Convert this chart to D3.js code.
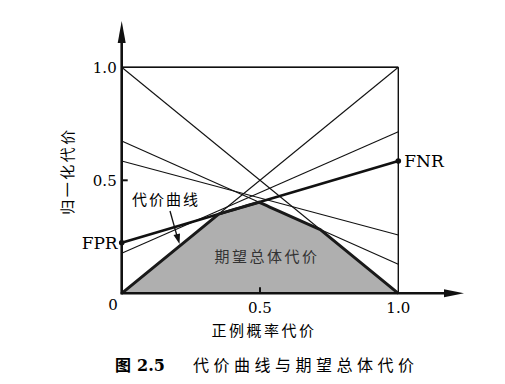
<!DOCTYPE html>
<html>
<head>
<meta charset="utf-8">
<script src="https://cdn.jsdelivr.net/npm/d3@7"></script>
<style>
  body { margin: 0; background: #fff; }
  svg { display: block; }
</style>
</head>
<body>
<div id="chart"></div>
<script>
// cost lines: value at P(+)cost = 0 (FPR end) and at 1 (FNR end)
var leftVals = [1, 1, 0, 0.674, 0.585, 0.224, 0.177];
var rightVals = [1, 0, 1, 0.128, 0.258, 0.585, 0.715];
var boldLine = 5; // the FPR -> FNR line
var yTicks = [1.0, 0.5];
var yTickLabels = ["1.0", "0.5"];
var xTicks = [0.5, 1.0];
var xTickLabels = ["0.5", "1.0"];

var width = 505,
  height = 384;

var cjk = "'Noto Sans CJK SC', sans-serif";
var serif = "'DejaVu Serif', serif";

var svg = d3
  .select("#chart")
  .append("svg")
  .attr("width", width)
  .attr("height", height);

var x = d3.scaleLinear().domain([0, 1]).range([121.7, 398.3]);
var y = d3.scaleLinear().domain([0, 1]).range([293.3, 67.3]);

var lines = leftVals.map(function(v, i) {
  return { a: v, b: rightVals[i], i: i };
});

// lower envelope = expected total cost
var xs = [0, 1];
lines.forEach(function(p, i) {
  lines.forEach(function(q, j) {
    if (j <= i) return;
    var dp = p.b - p.a,
      dq = q.b - q.a;
    if (dp === dq) return;
    var t = (q.a - p.a) / (dp - dq);
    if (t > 0 && t < 1) xs.push(t);
  });
});
xs.sort(d3.ascending);
var env = xs.map(function(t) {
  return [t, d3.min(lines, function(l) { return l.a + (l.b - l.a) * t; })];
});

svg
  .append("path")
  .datum(env)
  .attr("fill", "#afafaf")
  .attr("d", d3.area()
    .x(function(d) { return x(d[0]); })
    .y0(y(0))
    .y1(function(d) { return y(d[1]); }));

// frame top and right
svg.append("line")
  .attr("x1", x(0)).attr("x2", x(1))
  .attr("y1", y(1)).attr("y2", y(1))
  .attr("stroke", "#111").attr("stroke-width", 1.4);
svg.append("line")
  .attr("x1", x(1)).attr("x2", x(1))
  .attr("y1", y(0)).attr("y2", y(1))
  .attr("stroke", "#111").attr("stroke-width", 1.4);

svg
  .selectAll("line.cost")
  .data(lines)
  .enter()
  .append("line")
  .attr("class", "cost")
  .attr("x1", x(0))
  .attr("x2", x(1))
  .attr("y1", function(d) { return y(d.a); })
  .attr("y2", function(d) { return y(d.b); })
  .attr("stroke", "#111")
  .attr("stroke-width", function(d) { return d.i === boldLine ? 2.6 : 1.1; });

svg
  .append("path")
  .datum(env)
  .attr("fill", "none")
  .attr("stroke", "#1a1a1a")
  .attr("stroke-width", 3)
  .attr("stroke-linejoin", "round")
  .attr("d", d3.line()
    .x(function(d) { return x(d[0]); })
    .y(function(d) { return y(d[1]); }));

// end points of the bold line
svg.selectAll("circle.end")
  .data([[0, leftVals[boldLine]], [1, rightVals[boldLine]]])
  .enter()
  .append("circle")
  .attr("cx", function(d) { return x(d[0]); })
  .attr("cy", function(d) { return y(d[1]); })
  .attr("r", 2.8)
  .attr("fill", "#111");

// axes
svg.append("line")
  .attr("x1", x(0)).attr("x2", x(0))
  .attr("y1", y(0) + 1).attr("y2", 36)
  .attr("stroke", "#111").attr("stroke-width", 2.6);
svg.append("path")
  .attr("d", "M" + x(0) + ",21 L" + (x(0) - 4) + ",43 L" + (x(0) + 4) + ",43 Z")
  .attr("fill", "#111");
svg.append("line")
  .attr("x1", x(0) - 1).attr("x2", 450)
  .attr("y1", y(0)).attr("y2", y(0))
  .attr("stroke", "#111").attr("stroke-width", 2.6);
svg.append("path")
  .attr("d", "M464," + y(0) + " L444," + (y(0) - 4) + " L444," + (y(0) + 4) + " Z")
  .attr("fill", "#111");

// ticks
svg.selectAll("line.ytick")
  .data(yTicks.filter(function(d) { return d < 1; }))
  .enter().append("line")
  .attr("x1", x(0)).attr("x2", x(0) + 6)
  .attr("y1", function(d) { return y(d); }).attr("y2", function(d) { return y(d); })
  .attr("stroke", "#111").attr("stroke-width", 2);
svg.selectAll("line.xtick")
  .data(xTicks.filter(function(d) { return d < 1; }))
  .enter().append("line")
  .attr("x1", function(d) { return x(d); }).attr("x2", function(d) { return x(d); })
  .attr("y1", y(0)).attr("y2", y(0) - 6)
  .attr("stroke", "#111").attr("stroke-width", 2);

svg.selectAll("text.ylab")
  .data(yTicks)
  .enter().append("text")
  .attr("x", x(0) - 5)
  .attr("y", function(d) { return y(d) + 5.5; })
  .attr("text-anchor", "end")
  .attr("font-family", serif)
  .attr("font-size", 15)
  .text(function(d, i) { return yTickLabels[i]; });
svg.selectAll("text.xlab")
  .data(xTicks)
  .enter().append("text")
  .attr("x", function(d) { return x(d); })
  .attr("y", y(0) + 20)
  .attr("text-anchor", "middle")
  .attr("font-family", serif)
  .attr("font-size", 15)
  .text(function(d, i) { return xTickLabels[i]; });
svg.append("text")
  .attr("x", x(0) - 4)
  .attr("y", y(0) + 17)
  .attr("text-anchor", "end")
  .attr("font-family", serif)
  .attr("font-size", 15)
  .text("0");

svg.append("text")
  .attr("x", x(0) - 4)
  .attr("y", y(leftVals[boldLine]) + 6)
  .attr("text-anchor", "end")
  .attr("font-family", serif)
  .attr("font-size", 17)
  .text("FPR");
svg.append("text")
  .attr("x", x(1) + 6)
  .attr("y", y(rightVals[boldLine]) + 6)
  .attr("font-family", serif)
  .attr("font-size", 17)
  .text("FNR");

// annotations
svg.append("text")
  .attr("x", 132)
  .attr("y", 205)
  .attr("font-family", cjk)
  .attr("font-size", 15)
  .attr("letter-spacing", 2)
  .text("代价曲线");
svg.append("line")
  .attr("x1", 170).attr("y1", 211)
  .attr("x2", 177).attr("y2", 236)
  .attr("stroke", "#111").attr("stroke-width", 1.3);
svg.append("path")
  .attr("d", "M179.5,244 L173.5,235 L180,233.5 Z")
  .attr("fill", "#111");

svg.append("text")
  .attr("x", 267)
  .attr("y", 262)
  .attr("text-anchor", "middle")
  .attr("font-family", cjk)
  .attr("font-size", 15)
  .attr("letter-spacing", 2.5)
  .attr("fill", "#333")
  .text("期望总体代价");

svg.append("text")
  .attr("transform", "translate(73,171) rotate(-90)")
  .attr("text-anchor", "middle")
  .attr("font-family", cjk)
  .attr("font-size", 15)
  .attr("letter-spacing", 2.5)
  .text("归一化代价");
svg.append("text")
  .attr("x", 264)
  .attr("y", 336)
  .attr("text-anchor", "middle")
  .attr("font-family", cjk)
  .attr("font-size", 15)
  .attr("letter-spacing", 2.5)
  .text("正例概率代价");

// caption
var cap = svg.append("text")
  .attr("x", 115)
  .attr("y", 371)
  .attr("font-size", 16);
cap.append("tspan").attr("font-family", cjk).attr("font-weight", "bold").text("图");
cap.append("tspan").attr("dx", 6).attr("font-family", serif).attr("font-weight", "bold").text("2.5");
cap.append("tspan").attr("x", 193).attr("font-family", cjk).attr("letter-spacing", 4.5).text("代价曲线与期望总体代价");
</script>
</body>
</html>
